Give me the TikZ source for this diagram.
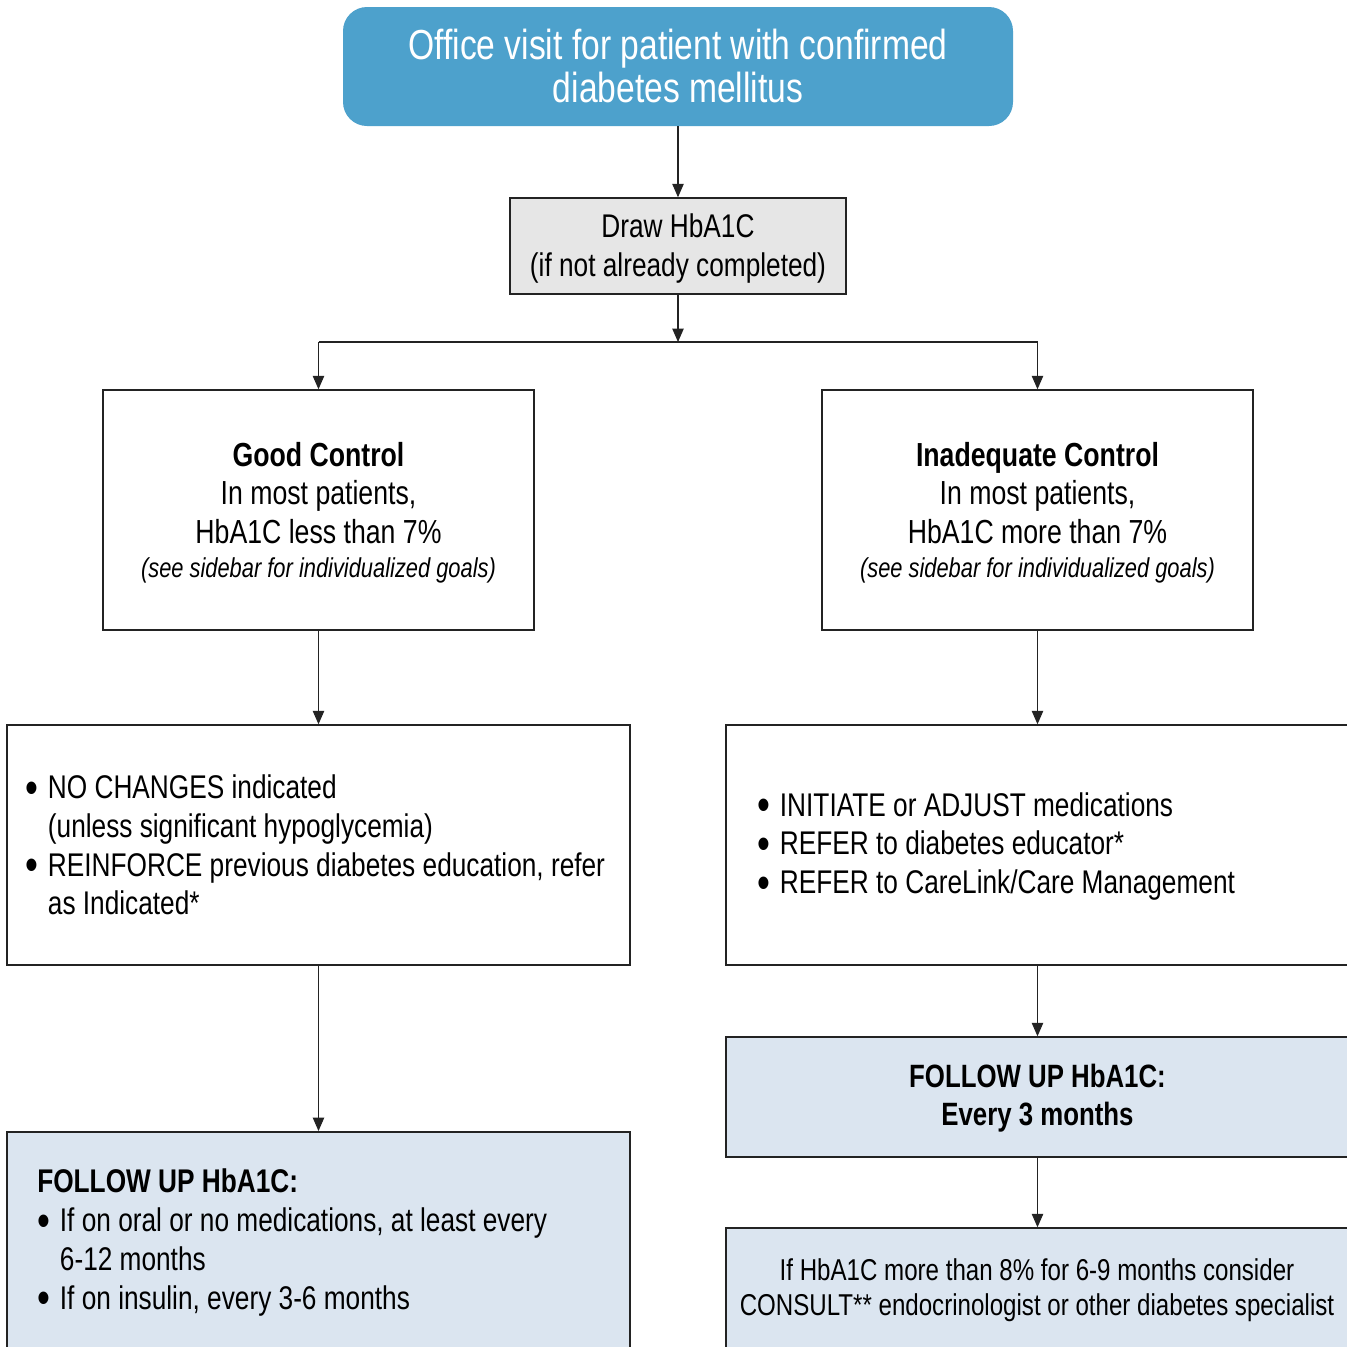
\documentclass[tikz,border=0pt]{standalone}
\usepackage{fontspec}
\usepackage{graphicx}
\setmainfont{Liberation Sans}[FakeStretch=0.8]
\usetikzlibrary{arrows.meta,fit}
\definecolor{topblue}{RGB}{77,161,204}
\definecolor{lightblue}{RGB}{219,229,240}
\definecolor{boxgray}{RGB}{230,230,230}
\definecolor{edgecol}{RGB}{35,35,35}
\newcommand{\bodyfont}{\fontsize{25}{28.8}\selectfont}
\newcommand{\listfont}{\fontsize{24.6}{29.1}\selectfont}
\newcommand{\bl}{\makebox[17pt][l]{\smash{\raisebox{-0.14em}{\scalebox{1.4}{\textbullet}}}}}
\newcommand{\ind}{\makebox[17pt][l]{}}
\tikzset{
  box/.style={draw=edgecol, line width=1.1pt, inner sep=0pt, rectangle},
  topbox/.style={fill=topblue, draw=none, rounded corners=18pt, inner sep=0pt},
  arr/.style={draw=edgecol, line width=0.8pt, -{Triangle[length=10pt,width=8.5pt]}},
  conn/.style={draw=edgecol, line width=0.8pt},
  ctxt/.style={inner sep=0pt, align=center, font=\bodyfont},
  txt/.style={inner sep=0pt, align=left, font=\listfont}
}
\begin{document}
\begin{tikzpicture}[x=0.75pt,y=-0.75pt]
\useasboundingbox (0,0) rectangle (1347,1347);
\clip (0,0) rectangle (1347,1347);
\fill[white] (0,0) rectangle (1347,1347);

\node[topbox, fit={(343,7)(1013,126)}] (top) {};
\node[box, fill=boxgray, fit={(510,198)(846,294)}] (draw) {};
\node[box, fit={(103,390)(534,630)}] (good) {};
\node[box, fit={(822,390)(1253,630)}] (inad) {};
\node[box, fit={(7,725)(630,965)}] (nochg) {};
\node[box, fit={(726,725)(1349,965)}] (adjust) {};
\node[box, fill=lightblue, line width=1.5pt, fit={(7,1132)(630,1400)}] (fuleft) {};
\node[box, fill=lightblue, fit={(726,1037)(1349,1157)}] (furight) {};
\node[box, fill=lightblue, fit={(726,1228)(1349,1400)}] (consult) {};

\node[ctxt, text=white, font=\fontsize{31.5}{32.5}\selectfont] (toptxt) at (678,66) {Office visit for patient with confirmed\\diabetes mellitus};
\node[ctxt, font=\fontsize{24.6}{29.3}\selectfont] (drawtxt) at (678,248.5) {Draw HbA1C\\(if not already completed)};
\node[ctxt] (goodtxt) at (318.5,512.5) {{\bfseries Good Control}\\In most patients,\\HbA1C less than 7\%\\[-3.5pt]{\itshape\fontsize{20.5}{26}\selectfont (see sidebar for individualized goals)}};
\node[ctxt] (inadtxt) at (1037.5,512.5) {{\bfseries Inadequate Control}\\In most patients,\\HbA1C more than 7\%\\[-3.5pt]{\itshape\fontsize{20.5}{26}\selectfont (see sidebar for individualized goals)}};
\node[txt, anchor=west] (nochgtxt) at (25,845) {\bl NO CHANGES indicated\\\ind(unless significant hypoglycemia)\\\bl REINFORCE previous diabetes education, refer\\\ind as Indicated*};
\node[txt, anchor=west] (adjtxt) at (757,846.5) {\bl INITIATE or ADJUST medications\\\bl REFER to diabetes educator*\\\bl REFER to CareLink/Care Management};
\node[txt, anchor=west] (futxt) at (37,1242.5) {{\bfseries FOLLOW UP HbA1C:}\\\bl If on oral or no medications, at least every\\\ind 6-12 months\\\bl If on insulin, every 3-6 months};
\node[ctxt, font=\fontsize{24.2}{28.8}\selectfont\bfseries] (furtxt) at (1037.5,1098) {FOLLOW UP HbA1C:\\Every 3 months};
\node[ctxt, font=\fontsize{22.6}{26.3}\selectfont] (consulttxt) at (1037,1290) {If HbA1C more than 8\% for 6-9 months consider\\CONSULT** endocrinologist or other diabetes specialist};

\coordinate (j) at (678,342);
\coordinate (jl) at (318.5,342);
\coordinate (jr) at (1037.5,342);
\draw[arr] (top) -- (draw);
\draw[arr] (draw) -- (j);
\draw[conn] (jl) -- (jr);
\draw[arr] (jl) -- (good);
\draw[arr] (jr) -- (inad);
\draw[arr] (good) -- (nochg);
\draw[arr] (inad) -- (inad |- adjust.north);
\draw[arr] (nochg) -- (fuleft);
\draw[arr] (inad |- adjust.south) -- (inad |- furight.north);
\draw[arr] (inad |- furight.south) -- (inad |- consult.north);
\end{tikzpicture}
\end{document}
